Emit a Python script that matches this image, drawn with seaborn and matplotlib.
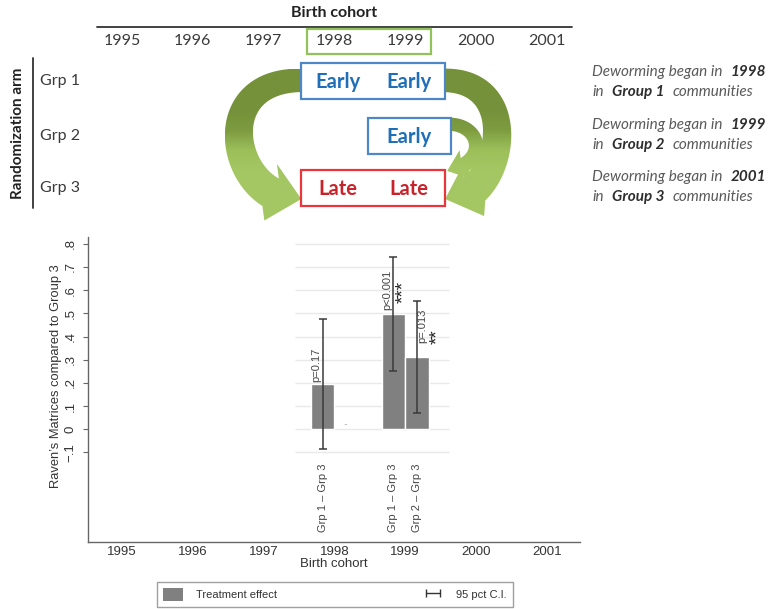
import numpy as np
import pandas as pd
import matplotlib
matplotlib.use("Agg")
import matplotlib.pyplot as plt
import seaborn as sns
from matplotlib.patches import Rectangle, Polygon, Patch
from matplotlib.lines import Line2D
from matplotlib.colors import LinearSegmentedColormap

# ==============================
# DATA
# ==============================
cohort_years = [1995, 1996, 1997, 1998, 1999, 2000, 2001]
groups = ["Grp 1", "Grp 2", "Grp 3"]
start_years = [1998, 1999, 2001]
group_years = [[1998, 1999], [1999], [1998, 1999]]
group_status = [["Early", "Early"], ["Early"], ["Late", "Late"]]

bar_years = [1998, 1999, 1999]
comparisons = ["Grp 1 – Grp 3", "Grp 1 – Grp 3", "Grp 2 – Grp 3"]
effects = [0.195, 0.497, 0.310]
ci_low = [-0.086, 0.251, 0.069]
ci_high = [0.474, 0.744, 0.554]
p_labels = ["p=0.17", "p<0.001", "p=.013"]
stars = ["", "***", "**"]

y_ticks = [-0.1, 0, 0.1, 0.2, 0.3, 0.4, 0.5, 0.6, 0.7, 0.8]
y_ticklabels = ["−.1", "0", ".1", ".2", ".3", ".4", ".5", ".6", ".7", ".8"]

# ==============================
# STYLE
# ==============================
sns.set_theme(style="white")
plt.rcParams["font.family"] = ["Liberation Sans", "DejaVu Sans"]
TOPFONT = ["Lato", "DejaVu Sans"]
BAR_COLOR = "#808080"
AXIS_COLOR = "#666666"
TXT = "#333333"
BLUE_EDGE, BLUE_TXT = "#4F87C6", "#1F6FB8"
RED_EDGE, RED_TXT = "#E8363C", "#C8232B"

W, H = 773, 609
fig = plt.figure(figsize=(W / 100, H / 100), dpi=100)
fig.patch.set_facecolor("white")

# ==============================
# BOTTOM CHART
# ==============================
ax = fig.add_axes([88 / W, 1 - 542 / H, 492 / W, 305 / H])
df = pd.DataFrame({"cohort": bar_years, "comparison": comparisons, "effect": effects})
sns.barplot(data=df, x="cohort", y="effect", hue="comparison", native_scale=True,
            width=0.664, palette=[BAR_COLOR, BAR_COLOR], saturation=1,
            errorbar=None, legend=False, ax=ax, zorder=2)

# bar centres as drawn by seaborn
xs = []
for eff in effects:
    p = [b for b in ax.patches if abs(b.get_height() - eff) < 1e-9][0]
    xs.append(p.get_x() + p.get_width() / 2)
xs = np.array(xs)
eff = np.array(effects)
ax.errorbar(xs, eff, yerr=[eff - np.array(ci_low), np.array(ci_high) - eff],
            fmt="none", ecolor="#3a3a3a", elinewidth=1.1, capsize=3, capthick=1.1, zorder=3)

ax.set_xlim(1994.52, 2001.47)
ax.set_ylim(-0.486, 0.829)
ax.hlines(y_ticks, 1997.44, 1999.62, color="#e9e9e9", lw=1, zorder=0)

ax.set_xticks(cohort_years, [str(y) for y in cohort_years])
ax.set_yticks(y_ticks, y_ticklabels)
ax.tick_params(axis="x", bottom=False, length=0, labelsize=9.5, labelcolor=TXT, pad=3)
ax.tick_params(axis="y", left=True, length=3.6, width=0.8, color=AXIS_COLOR,
               labelsize=9.5, labelcolor=TXT, pad=4.5, labelrotation=90)
for lab in ax.get_yticklabels():
    lab.set_va("center")
for s in ["top", "right"]:
    ax.spines[s].set_visible(False)
for s in ["left", "bottom"]:
    ax.spines[s].set_color(AXIS_COLOR)
    ax.spines[s].set_linewidth(1)
ax.set_facecolor("white")
ax.set_xlabel("Birth cohort", fontsize=9.5, color=TXT, labelpad=0)
ax.set_ylabel("Raven’s Matrices compared to Group 3", fontsize=9.3, color=TXT)
ax.yaxis.set_label_coords(-0.052, 0.545)

# p-values, stars and comparison labels
p_off = [(-6, 2), (-6, 4), (5, 14)]
s_off = [(10, 11), (21, 13)]
for i in range(len(effects)):
    ax.annotate(p_labels[i], xy=(xs[i], effects[i]), xytext=p_off[i], textcoords="offset pixels",
                rotation=90, ha="center", va="bottom", fontsize=8, color="#444444")
    ax.annotate(comparisons[i], xy=(xs[i], 0), xycoords=ax.get_xaxis_transform(),
                xytext=(0, 10), textcoords="offset pixels", rotation=90,
                ha="center", va="bottom", fontsize=8, color="#444444")
k = 0
for i in range(len(effects)):
    if stars[i]:
        ax.annotate(stars[i], xy=(xs[i], effects[i]), xytext=s_off[k], textcoords="offset pixels",
                    rotation=90, ha="center", va="bottom", fontsize=13.5, color="#222222")
        k += 1
# empty Grp 2 slot in 1998
ax.annotate("..", xy=(2 * bar_years[0] - xs[0], 0), xytext=(0, 2), textcoords="offset pixels",
            ha="center", va="bottom", fontsize=6, color="#888888")

handles = [Patch(facecolor=BAR_COLOR, edgecolor="none", label="Treatment effect"),
           Line2D([0], [0], color="#333333", lw=1, marker="|", markersize=6, mew=1,
                  label="95 pct C.I.")]
leg = fig.legend(handles=handles, loc="center", bbox_to_anchor=(157 / W, 2 / H, 356 / W, 25 / H),
                 mode="expand", ncol=2, numpoints=2, frameon=True, fancybox=False,
                 edgecolor="#888888", fontsize=8, handlelength=1.8, handleheight=1.35,
                 borderpad=0.55, borderaxespad=0, handletextpad=1.2, labelcolor="#333333")
leg.get_frame().set_linewidth(1)

# ==============================
# TOP DIAGRAM (pixel coordinates)
# ==============================
ax0 = fig.add_axes([0, 0, 1, 1])
ax0.set_xlim(0, W)
ax0.set_ylim(H, 0)
ax0.axis("off")

pos = ax.get_position()
x_lo, x_hi = ax.get_xlim()


def px(yr):
    return pos.x0 * W + (yr - x_lo) / (x_hi - x_lo) * pos.width * W


head_x0, head_x1 = px(cohort_years[0]) - 25, px(cohort_years[-1]) + 25
ax0.text((head_x0 + head_x1) / 2, 13, "Birth cohort", ha="center", va="center",
         fontsize=11.5, fontweight="bold", family=TOPFONT, color="#222222")
ax0.plot([head_x0, head_x1], [27, 27], color="#333333", lw=1.3)
for yr in cohort_years:
    ax0.text(px(yr), 41, str(yr), ha="center", va="center", fontsize=11.5,
             family=TOPFONT, color="#3a3a3a")
ax0.add_patch(Rectangle((px(1998) - 27, 29), px(1999) - px(1998) + 53, 25,
                        fill=False, edgecolor="#92C35A", lw=1.6, zorder=3))

ax0.text(18, 133, "Randomization arm", rotation=90, ha="center", va="center",
         fontsize=11, fontweight="bold", family=TOPFONT, color="#222222")
ax0.plot([33, 33], [58, 208], color="#333333", lw=1.3)

row_y = [81, 136, 188]
pads = [(33, 40), (37, 46), (33, 40)]
edges = []
for g, yrs, stat, yc, (pl, pr) in zip(groups, group_years, group_status, row_y, pads):
    ax0.text(40, yc, g, ha="left", va="center", fontsize=11.5, family=TOPFONT, color="#3a3a3a")
    late = stat[0] == "Late"
    left, right = px(yrs[0]) - pl, px(yrs[-1]) + pr
    edges.append((left, right))
    ax0.add_patch(Rectangle((left, yc - 18), right - left, 36, facecolor="white",
                            edgecolor=RED_EDGE if late else BLUE_EDGE, lw=1.6, zorder=4))
    for yr, s in zip(yrs, stat):
        ax0.text(px(yr) + 4, yc + 1, s, ha="center", va="center", fontsize=14.5,
                 fontweight="bold", family=TOPFONT, color=RED_TXT if late else BLUE_TXT, zorder=5)


def arrow_outline(p0, p1, p2, p3, w0, w1, head_w, head_len, n=300):
    p0, p1, p2, p3 = map(np.asarray, (p0, p1, p2, p3))
    t = np.linspace(0, 1, n)[:, None]
    pts = (1 - t) ** 3 * p0 + 3 * (1 - t) ** 2 * t * p1 + 3 * (1 - t) * t ** 2 * p2 + t ** 3 * p3
    seg = np.hypot(*np.diff(pts, axis=0).T)
    s = np.concatenate([[0], np.cumsum(seg)])
    body = pts[s <= s[-1] - head_len]
    d = np.gradient(body, axis=0)
    d /= np.hypot(d[:, 0], d[:, 1])[:, None]
    nrm = np.column_stack([-d[:, 1], d[:, 0]])
    w = np.linspace(w0, w1, len(body))[:, None] / 2
    tip = pts[-1]
    base = body[-1]
    hd = (tip - base) / np.hypot(*(tip - base))
    nb = np.array([-hd[1], hd[0]])
    head = np.array([base + nb * head_w / 2, tip, base - nb * head_w / 2])
    return np.vstack([body + nrm * w, head, (body - nrm * w)[::-1]])


(L1, R1), (L2, R2), (L3, R3) = edges
arrows = [
    arrow_outline((L1 + 12, 81), (L1 - 100, 70), (L3 - 70, 206), (L3, 199), 23, 32, 58, 32),
    arrow_outline((R1 - 12, 81), (R1 + 86, 70), (R3 + 56, 206), (R3, 199), 23, 32, 58, 32),
    arrow_outline((R2 - 10, 125), (R2 + 28, 118), (R2 + 42, 162), (R3 + 2, 171), 13, 15, 30, 19),
]
arrow_cmap = LinearSegmentedColormap.from_list("arr", ["#75913A", "#7D9C40", "#9CBF5A", "#A4C763"])
for outline in arrows:
    poly = Polygon(outline, closed=True, facecolor="none", edgecolor="none", zorder=2)
    ax0.add_patch(poly)
    xmin, ymin = outline.min(axis=0)
    xmax, ymax = outline.max(axis=0)
    yy = np.linspace(ymin, ymax, 200)
    grad = np.clip((yy - 110) / 60, 0, 1)[:, None]
    im = ax0.imshow(grad, extent=(xmin, xmax, ymax, ymin), cmap=arrow_cmap, vmin=0, vmax=1,
                    aspect="auto", origin="upper", zorder=2, interpolation="bilinear")
    im.set_clip_path(poly)
ax0.set_xlim(0, W)
ax0.set_ylim(H, 0)

# right-hand notes
def rich_line(x, y, parts):
    prev = None
    for txt, bold in parts:
        kw = dict(fontsize=11, family=TOPFONT, style="italic",
                  fontweight="bold" if bold else "normal",
                  color="#2e2e2e" if bold else "#5a5a5a")
        if prev is None:
            prev = ax0.text(x, y, txt, ha="left", va="center", **kw)
        else:
            prev = ax0.annotate(txt, xy=(1, 0), xycoords=prev, xytext=(6, 0),
                                textcoords="offset points", ha="left", va="bottom", **kw)


note_y = [72, 125, 177]
for g, yr, yc in zip(groups, start_years, note_y):
    rich_line(592, yc, [("Deworming began in", False), (str(yr), True)])
    rich_line(592, yc + 20, [("in", False), ("Group " + g.split()[-1], True), ("communities", False)])

fig.savefig("out.png", dpi=100)
